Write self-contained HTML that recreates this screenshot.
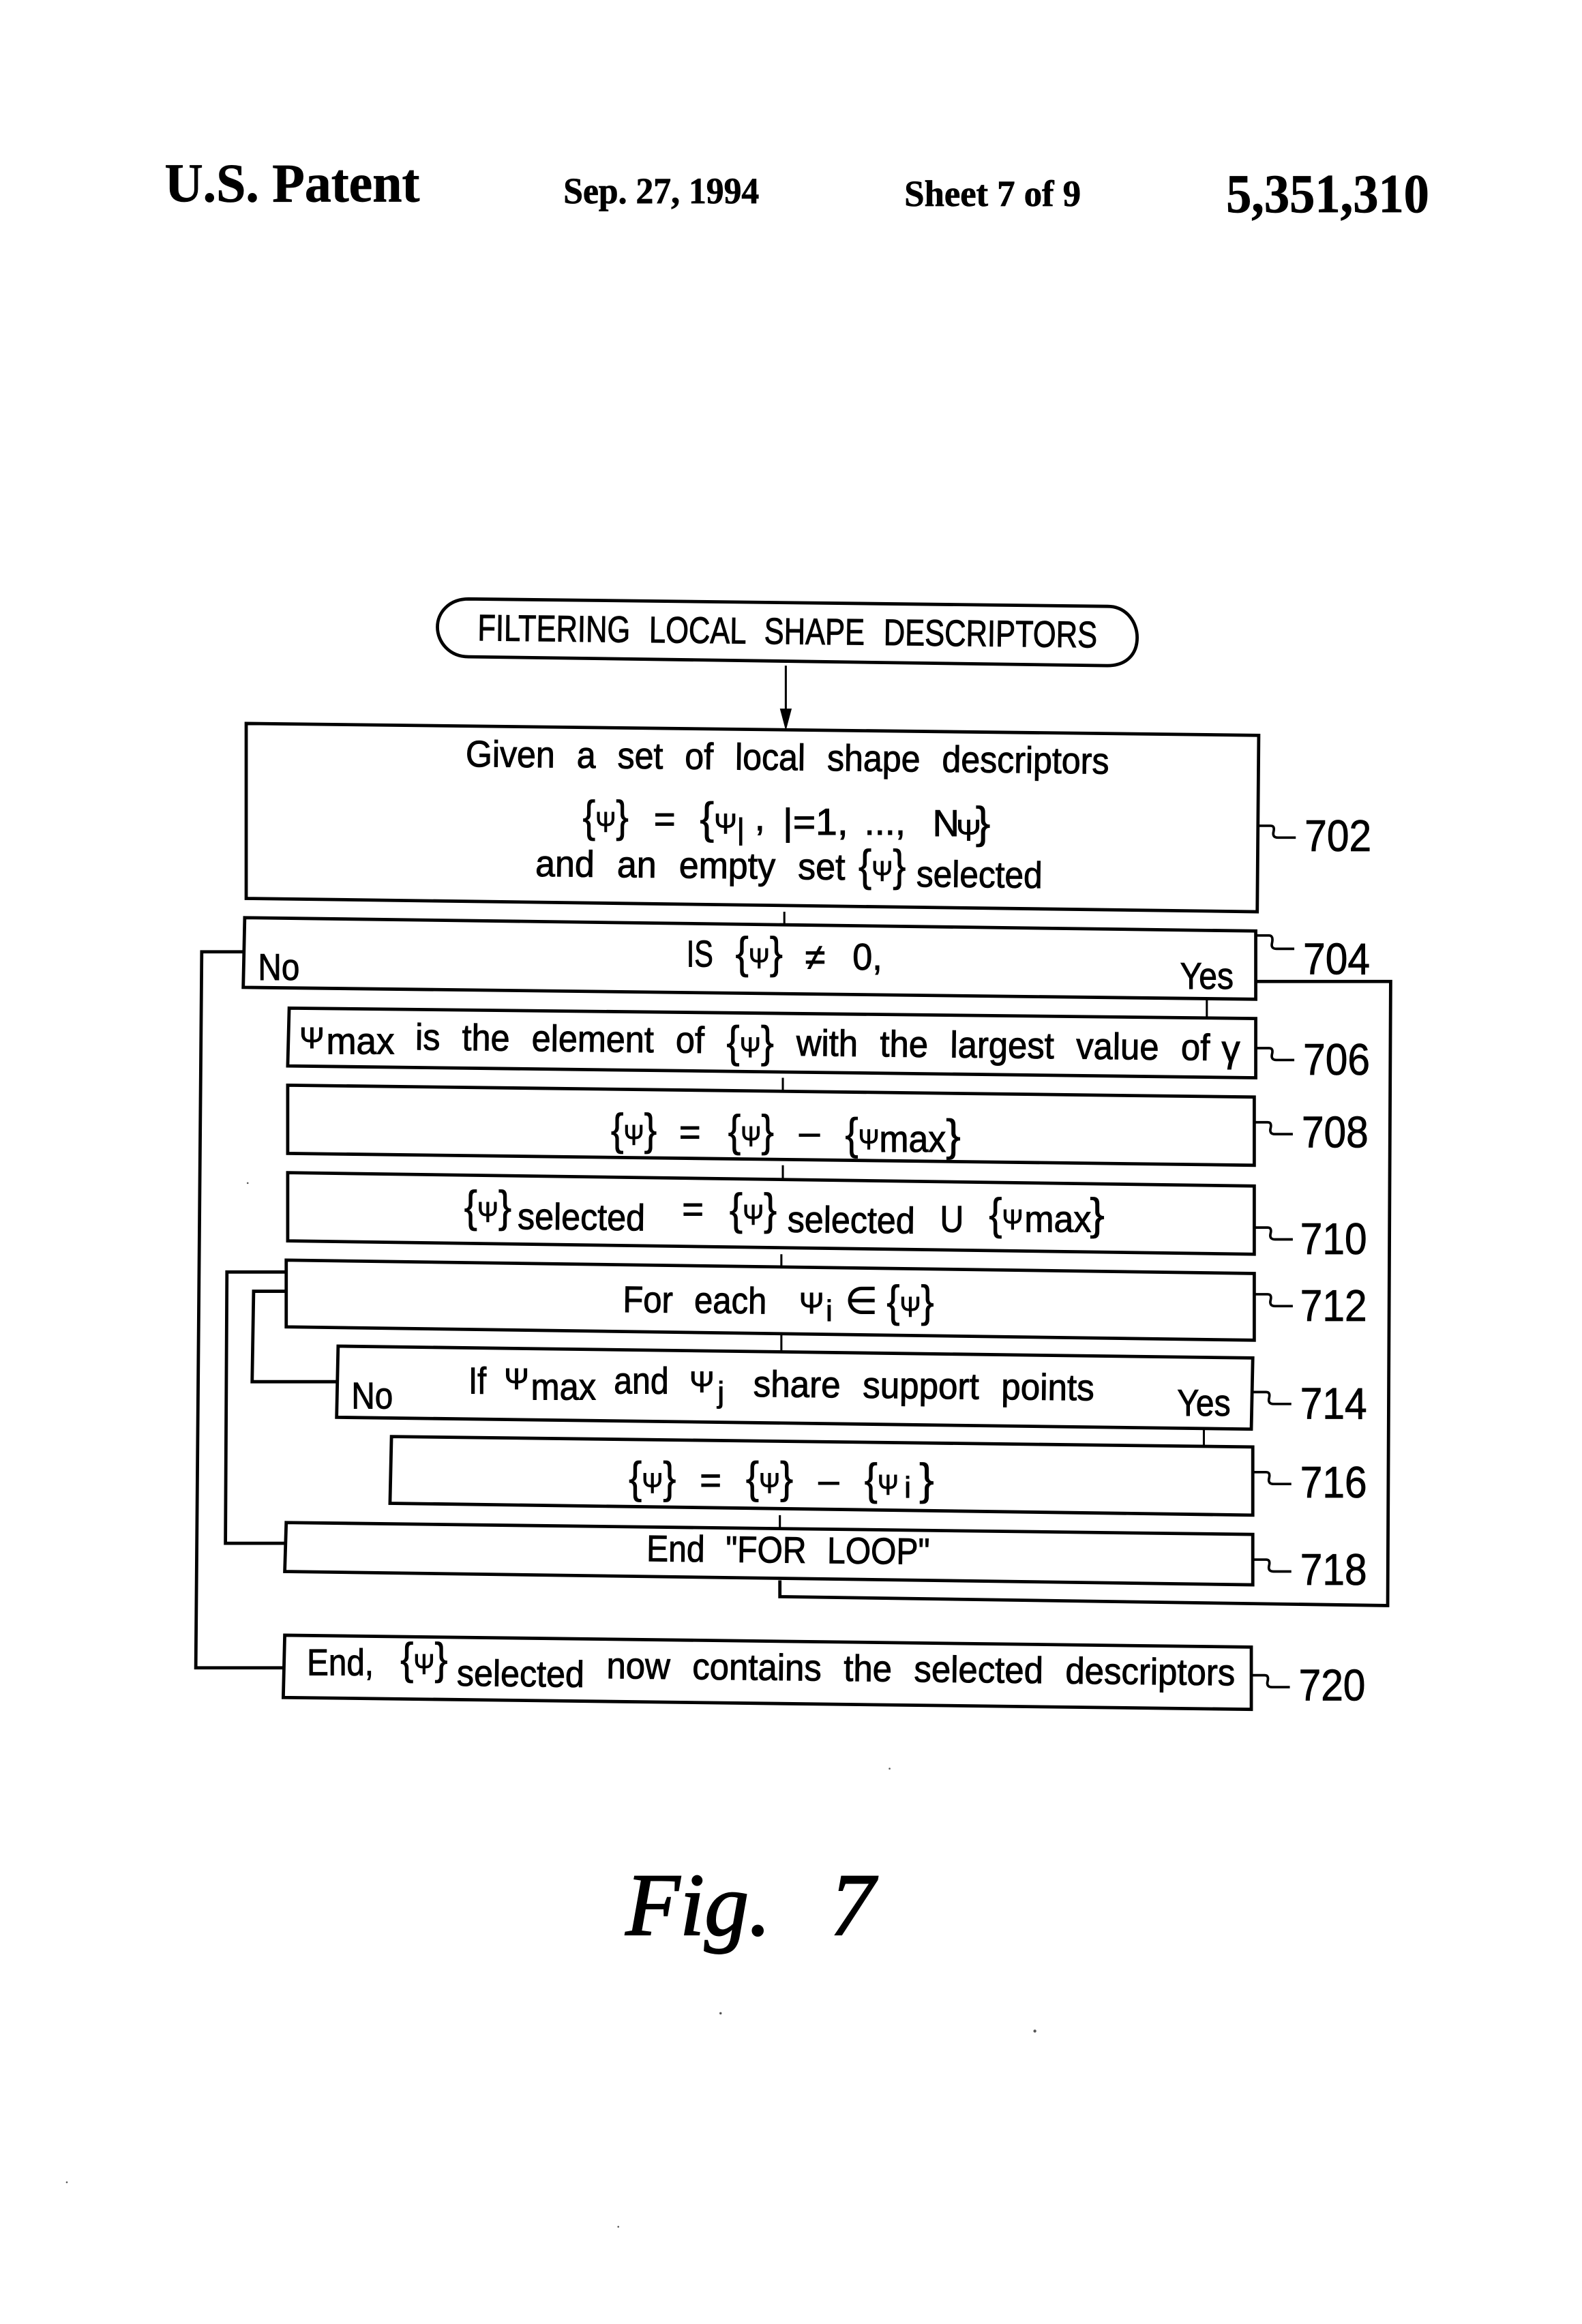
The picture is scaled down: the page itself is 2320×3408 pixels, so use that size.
<!DOCTYPE html>
<html><head><meta charset="utf-8"><style>
html,body{margin:0;padding:0;background:#fff;width:2320px;height:3408px;overflow:hidden}
svg{display:block}
text{font-family:"Liberation Sans",sans-serif;font-size:25px;fill:#000;stroke:#000;stroke-width:.45px;word-spacing:9px}
.h{font-family:"Liberation Serif",serif;font-weight:bold;stroke-width:.35px;word-spacing:0}
.n{font-size:30px;stroke-width:.4px}
.b{font-size:30px;stroke-width:.3px}
.b tspan{font-size:19px;stroke-width:.45px}
.s{font-size:20px}
.f{font-family:"Liberation Serif",serif;font-style:italic;font-size:60px;stroke-width:1px;word-spacing:0}
.box,.ln{fill:none;stroke:#000;stroke-width:2.2}
.th{stroke-width:1.4}
.le{fill:none;stroke:#000;stroke-width:1.7}
</style></head><body>
<svg width="2320" height="3408" viewBox="0 0 1067 1567.6" xmlns="http://www.w3.org/2000/svg">
<rect width="1067" height="1568" fill="#fff"/>
<text class="h" x="111" y="136" style="font-size:37px" textLength="172" lengthAdjust="spacingAndGlyphs">U.S. Patent</text>
<text class="h" x="380" y="137" style="font-size:25px" textLength="132" lengthAdjust="spacingAndGlyphs">Sep. 27, 1994</text>
<text class="h" x="610" y="139" style="font-size:25px" textLength="119" lengthAdjust="spacingAndGlyphs">Sheet 7 of 9</text>
<text class="h" x="827" y="143" style="font-size:37px" textLength="137" lengthAdjust="spacingAndGlyphs">5,351,310</text>

<path class="box" d="M316 404L747 409C760 409 767 420 767 430C767 441 760 449 747 449L316 443C303 443 295 433 295 423C295 413 303 404 316 404Z"/>
<path class="box" d="M166 488L849 496L848 615L166 606Z"/>
<path class="box" d="M165 619L847 628L847 674L164 666Z"/>
<path class="box" d="M195 680L847 687L847 727L194 719Z"/>
<path class="box" d="M194 732L846 740L846 786L194 778Z"/>
<path class="box" d="M194 791L846 800L846 846L194 837Z"/>
<path class="box" d="M193 850L846 859L846 904L193 895Z"/>
<path class="box" d="M228 908L845 916L844 964L227 956Z"/>
<path class="box" d="M264 969L845 976L845 1022L263 1014Z"/>
<path class="box" d="M193 1027L845 1035L845 1069L192 1060Z"/>
<path class="box" d="M192 1103L844 1111L844 1153L191 1145Z"/>

<path class="ln th" d="M530 449V490M529 615V623M814 674V687M528 727V736M528 786V796M527 846V855M527 900V912M812 964V976M526 1022V1031"/>
<path d="M526 478L534 478L530 493Z" fill="#000"/>
<path class="ln" d="M526 1066V1077L936 1083L938 662L847 662"/>
<path class="ln" d="M164 642H136L132 1125H191"/>
<path class="ln" d="M193 858H153L152 1041H192"/>
<path class="ln" d="M193 871H171L170 932H228"/>

<path class="le" d="M848 557h9q3 0 2 4q-1 4 3 4h12"/>
<path class="le" d="M847 631h9q3 0 2 5q-1 4 3 4h12"/>
<path class="le" d="M847 707h9q3 0 2 4q-1 4 3 4h12"/>
<path class="le" d="M846 757h9q3 0 2 4q-1 4 3 4h12"/>
<path class="le" d="M846 828h9q3 0 2 4q-1 4 3 4h12"/>
<path class="le" d="M846 873h9q3 0 2 4q-1 4 3 4h12"/>
<path class="le" d="M845 939h9q3 0 2 4q-1 4 3 4h12"/>
<path class="le" d="M845 993h9q3 0 2 4q-1 4 3 4h12"/>
<path class="le" d="M845 1052h9q3 0 2 4q-1 4 3 4h12"/>
<path class="le" d="M844 1130h9q3 0 2 4q-1 4 3 4h12"/>
<text class="n" x="880" y="574" textLength="45" lengthAdjust="spacingAndGlyphs">702</text>
<text class="n" x="879" y="657" textLength="45" lengthAdjust="spacingAndGlyphs">704</text>
<text class="n" x="879" y="725" textLength="45" lengthAdjust="spacingAndGlyphs">706</text>
<text class="n" x="878" y="774" textLength="45" lengthAdjust="spacingAndGlyphs">708</text>
<text class="n" x="877" y="846" textLength="45" lengthAdjust="spacingAndGlyphs">710</text>
<text class="n" x="877" y="891" textLength="45" lengthAdjust="spacingAndGlyphs">712</text>
<text class="n" x="877" y="957" textLength="45" lengthAdjust="spacingAndGlyphs">714</text>
<text class="n" x="877" y="1010" textLength="45" lengthAdjust="spacingAndGlyphs">716</text>
<text class="n" x="877" y="1069" textLength="45" lengthAdjust="spacingAndGlyphs">718</text>
<text class="n" x="876" y="1147" textLength="45" lengthAdjust="spacingAndGlyphs">720</text>

<text x="322" y="432" transform="rotate(.65 322 432)" textLength="418" lengthAdjust="spacingAndGlyphs">FILTERING LOCAL SHAPE DESCRIPTORS</text>
<text x="314" y="517" transform="rotate(.65 314 517)" textLength="434" lengthAdjust="spacingAndGlyphs">Given a set of local shape descriptors</text>
<text class="b" x="393" y="561" textLength="31" lengthAdjust="spacingAndGlyphs">{<tspan>Ψ</tspan>}</text>
<text x="441" y="561">=</text>
<text class="b" x="472" y="562" textLength="25" lengthAdjust="spacingAndGlyphs">{<tspan>Ψ</tspan></text>
<text class="s" x="497" y="566">|</text><text x="509" y="560">,</text>
<text x="528" y="563" textLength="44" lengthAdjust="spacingAndGlyphs">|=1,</text><text x="583" y="563">...,</text>
<text x="629" y="564">N</text><text class="s" x="645" y="567">Ψ</text><text class="b" x="658" y="565">}</text>
<text x="361" y="591" transform="rotate(.65 361 591)" textLength="209" lengthAdjust="spacingAndGlyphs">and an empty set</text>
<text class="b" x="579" y="594" textLength="32" lengthAdjust="spacingAndGlyphs">{<tspan>Ψ</tspan>}</text>
<text x="618" y="598" transform="rotate(.65 618 598)" textLength="85" lengthAdjust="spacingAndGlyphs">selected</text>

<text x="463" y="652" textLength="18" lengthAdjust="spacingAndGlyphs">IS</text>
<text class="b" x="496" y="653" textLength="32" lengthAdjust="spacingAndGlyphs">{<tspan>Ψ</tspan>}</text>
<text x="543" y="654">≠</text>
<text x="575" y="654" textLength="20" lengthAdjust="spacingAndGlyphs">0,</text>
<text x="174" y="661" textLength="28" lengthAdjust="spacingAndGlyphs">No</text>
<text x="796" y="667" textLength="36" lengthAdjust="spacingAndGlyphs">Yes</text>

<text class="s" x="202" y="707">Ψ</text>
<text x="220" y="711" textLength="46" lengthAdjust="spacingAndGlyphs">max</text>
<text x="280" y="708" transform="rotate(.65 280 708)" textLength="195" lengthAdjust="spacingAndGlyphs">is the element of</text>
<text class="b" x="490" y="713" textLength="32" lengthAdjust="spacingAndGlyphs">{<tspan>Ψ</tspan>}</text>
<text x="537" y="712" transform="rotate(.65 537 712)" textLength="279" lengthAdjust="spacingAndGlyphs">with the largest value of</text>
<text x="824" y="716">γ</text>

<text class="b" x="412" y="772" textLength="31" lengthAdjust="spacingAndGlyphs">{<tspan>Ψ</tspan>}</text>
<text x="458" y="772">=</text>
<text class="b" x="491" y="773" textLength="31" lengthAdjust="spacingAndGlyphs">{<tspan>Ψ</tspan>}</text>
<text x="539" y="772">–</text>
<text class="b" x="570" y="775" textLength="23" lengthAdjust="spacingAndGlyphs">{<tspan>Ψ</tspan></text>
<text x="593" y="777" textLength="45" lengthAdjust="spacingAndGlyphs">max</text>
<text class="b" x="638" y="776">}</text>

<text class="b" x="313" y="824" textLength="32" lengthAdjust="spacingAndGlyphs">{<tspan>Ψ</tspan>}</text>
<text x="349" y="829" transform="rotate(.65 349 829)" textLength="86" lengthAdjust="spacingAndGlyphs">selected</text>
<text x="460" y="824">=</text>
<text class="b" x="492" y="826" textLength="32" lengthAdjust="spacingAndGlyphs">{<tspan>Ψ</tspan>}</text>
<text x="531" y="831" transform="rotate(.65 531 831)" textLength="86" lengthAdjust="spacingAndGlyphs">selected</text>
<text x="634" y="831" textLength="16" lengthAdjust="spacingAndGlyphs">U</text>
<text class="b" x="667" y="829" textLength="23" lengthAdjust="spacingAndGlyphs">{<tspan>Ψ</tspan></text>
<text x="691" y="831" textLength="45" lengthAdjust="spacingAndGlyphs">max</text>
<text class="b" x="735" y="829">}</text>

<text x="420" y="885" transform="rotate(.65 420 885)" textLength="97" lengthAdjust="spacingAndGlyphs">For each</text>
<text class="s" x="539" y="886">Ψ</text><text class="s" x="557" y="891">i</text>
<text x="570" y="886">∈</text>
<text class="b" x="598" y="888" textLength="32" lengthAdjust="spacingAndGlyphs">{<tspan>Ψ</tspan>}</text>

<text x="316" y="940" textLength="12" lengthAdjust="spacingAndGlyphs">If</text>
<text class="s" x="340" y="937">Ψ</text>
<text x="358" y="944" textLength="44" lengthAdjust="spacingAndGlyphs">max</text>
<text x="414" y="940" textLength="37" lengthAdjust="spacingAndGlyphs">and</text>
<text class="s" x="465" y="939">Ψ</text><text class="s" x="484" y="946">j</text>
<text x="508" y="942" transform="rotate(.65 508 942)" textLength="230" lengthAdjust="spacingAndGlyphs">share support points</text>
<text x="237" y="950" textLength="28" lengthAdjust="spacingAndGlyphs">No</text>
<text x="794" y="955" textLength="36" lengthAdjust="spacingAndGlyphs">Yes</text>

<text class="b" x="424" y="1007" textLength="32" lengthAdjust="spacingAndGlyphs">{<tspan>Ψ</tspan>}</text>
<text x="472" y="1007">=</text>
<text class="b" x="503" y="1007" textLength="32" lengthAdjust="spacingAndGlyphs">{<tspan>Ψ</tspan>}</text>
<text x="552" y="1007">–</text>
<text class="b" x="583" y="1008" textLength="23" lengthAdjust="spacingAndGlyphs">{<tspan>Ψ</tspan></text>
<text class="s" x="610" y="1010">i</text>
<text class="b" x="620" y="1008">}</text>

<text x="436" y="1053" transform="rotate(.65 436 1053)" textLength="191" lengthAdjust="spacingAndGlyphs">End "FOR LOOP"</text>

<text x="207" y="1130" textLength="45" lengthAdjust="spacingAndGlyphs">End,</text>
<text class="b" x="270" y="1129" textLength="32" lengthAdjust="spacingAndGlyphs">{<tspan>Ψ</tspan>}</text>
<text x="308" y="1137" transform="rotate(.65 308 1137)" textLength="86" lengthAdjust="spacingAndGlyphs">selected</text>
<text x="409" y="1132" transform="rotate(.65 409 1132)" textLength="424" lengthAdjust="spacingAndGlyphs">now contains the selected descriptors</text>

<text class="f" x="422" y="1305" textLength="98" lengthAdjust="spacingAndGlyphs">Fig.</text>
<text class="f" x="560" y="1305">7</text>

<g fill="#555"><circle cx="486" cy="1358" r=".8"/><circle cx="698" cy="1370" r="1"/><circle cx="600" cy="1193" r=".6"/><circle cx="167" cy="798" r=".6"/><circle cx="45" cy="1472" r=".6"/><circle cx="417" cy="1502" r=".6"/></g>
</svg>
</body></html>
